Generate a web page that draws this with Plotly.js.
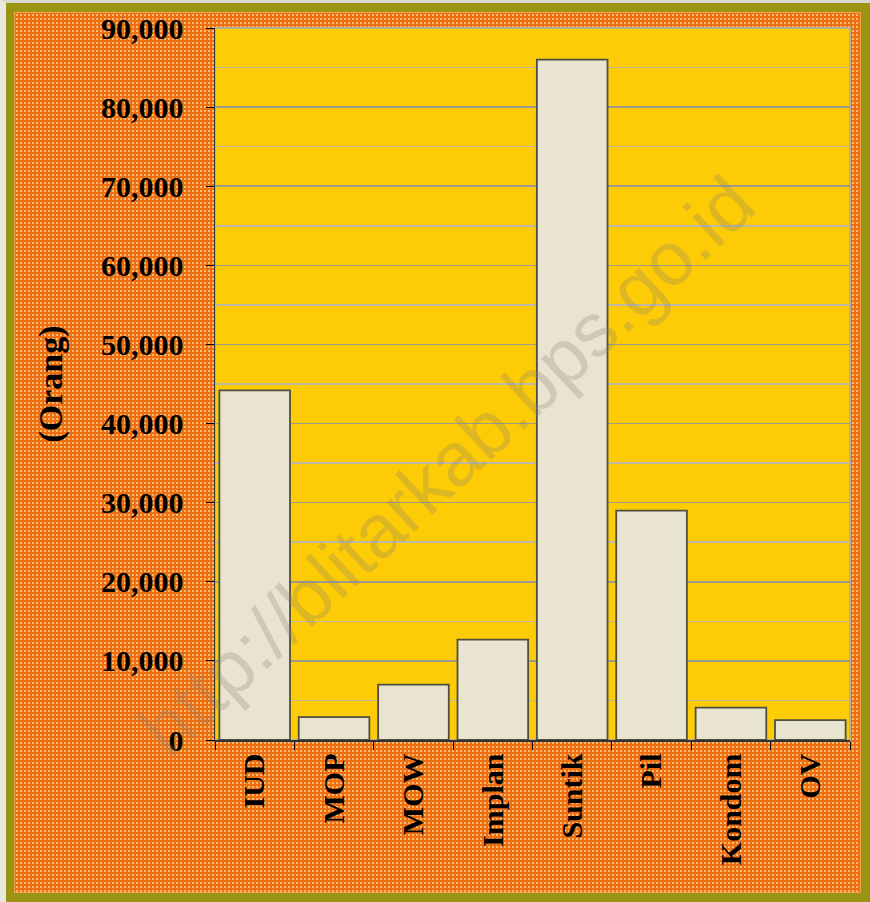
<!DOCTYPE html>
<html>
<head>
<meta charset="utf-8">
<script src="https://cdn.plot.ly/plotly-3.0.1.min.js"></script>
<style>
  html, body { margin: 0; padding: 0; background: #ffffff; }
  #frame {
    position: absolute; left: 0; top: 0; width: 870px; height: 902px;
    box-sizing: border-box;
    background: #9a9412;
    border-top: 3px solid #d8d8cc;
    border-left: 6px solid #e8e8e0;
  }
  #inner {
    position: absolute; left: 8px; top: 9px; right: 9px; bottom: 9px;
    background-color: #ee6e12;
    background-image: radial-gradient(circle, rgba(255, 200, 130, 0.85) 1px, transparent 1.5px);
    background-size: 4px 4px;
    border: 1px solid #f6a050;
  }
  #chart { position: absolute; left: 0; top: 0; width: 870px; height: 902px; }
</style>
</head>
<body>
<div id="frame"><div id="inner"></div></div>
<div id="chart"></div>
<script>
const categories = ['IUD', 'MOP', 'MOW', 'Implan', 'Suntik', 'Pil', 'Kondom', 'OV'];
const peserta = [44200, 2900, 7000, 12700, 86000, 29000, 4100, 2500];
const yTicks = [0, 10000, 20000, 30000, 40000, 50000, 60000, 70000, 80000, 90000];

const FONT = 'Liberation Serif, Times New Roman, serif';

const trace = {
  x: categories,
  y: peserta,
  type: 'bar',
  marker: {
    color: '#e9e4cf',
    line: { color: '#4e4e42', width: 1.8 },
  },
  hoverinfo: 'x+y',
};

const layout = {
  width: 870,
  height: 902,
  margin: { l: 215, r: 20, t: 28, b: 162 },
  paper_bgcolor: 'rgba(0,0,0,0)',
  plot_bgcolor: '#fdcc06',
  bargap: 0.11,
  showlegend: false,
  font: { family: FONT, color: '#000', size: 30 },
  xaxis: {
    type: 'category',
    tickangle: -90,
    ticks: 'outside',
    tickson: 'boundaries',
    ticklen: 8,
    tickcolor: '#000',
    showline: true,
    linecolor: '#333',
    linewidth: 1.5,
    showgrid: false,
    tickfont: { family: FONT, size: 30, color: '#000', weight: 'bold' },
  },
  yaxis: {
    range: [0, 90000],
    tickvals: yTicks,
    tickformat: ',',
    ticks: 'outside',
    ticklen: 8,
    tickcolor: '#000',
    ticklabelstandoff: 16,
    showline: true,
    linecolor: '#333',
    linewidth: 1.5,
    showgrid: true,
    gridcolor: '#9c9a8c',
    gridwidth: 1.5,
    zeroline: false,
    minor: { dtick: 5000, showgrid: true, gridcolor: '#bdb9a4', gridwidth: 1.5, ticks: '' },
    tickfont: { family: FONT, size: 30, color: '#000', weight: 'bold' },
    title: {
      text: '(Orang)',
      font: { family: FONT, size: 34, color: '#000', weight: 'bold' },
      standoff: 28,
    },
  },
  shapes: [{
    type: 'rect', xref: 'paper', yref: 'paper',
    x0: 0, x1: 1, y0: 0, y1: 1,
    line: { color: '#b4b09c', width: 2 },
    layer: 'below',
  }],
  annotations: [{
    text: 'http://blitarkab.bps.go.id',
    xref: 'paper', yref: 'paper',
    x: 0.365, y: 0.385,
    showarrow: false,
    textangle: -43,
    font: { family: 'Liberation Sans, Arial, sans-serif', size: 76, color: 'rgba(140, 130, 110, 0.28)' },
  }],
};

Plotly.newPlot('chart', [trace], layout, { displayModeBar: false, staticPlot: true });
</script>
</body>
</html>
